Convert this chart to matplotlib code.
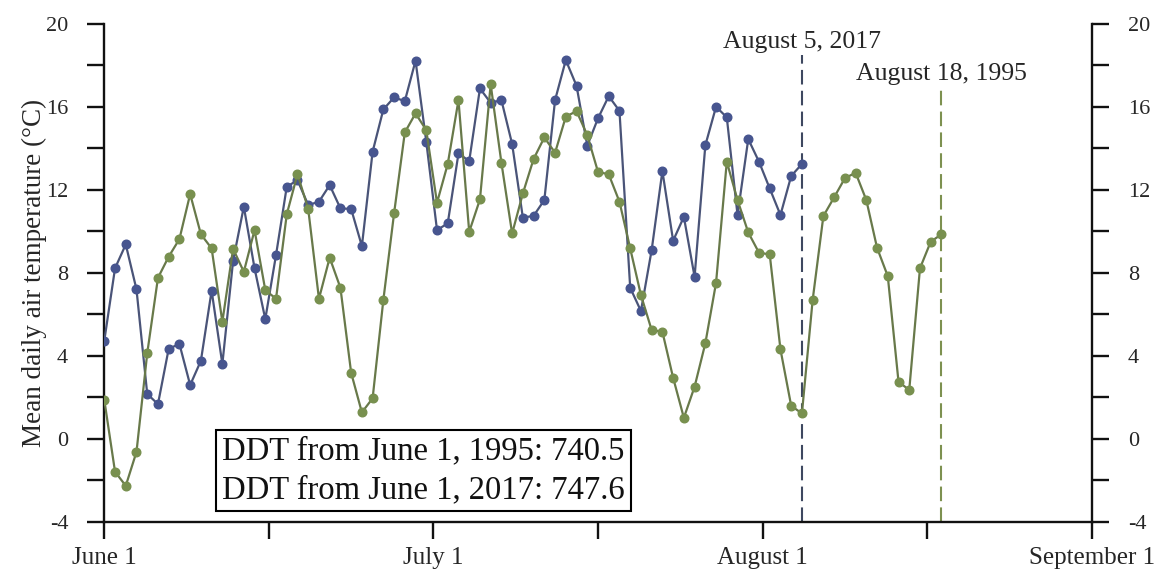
import numpy as np
import matplotlib
matplotlib.use("Agg")
import matplotlib.pyplot as plt

# Mean daily air temperature (°C), one value per day starting June 1
temp_2017 = [4.73, 8.22, 9.37, 7.20, 2.16, 1.67, 4.34, 4.57, 2.59, 3.76,
             7.14, 3.60, 8.58, 11.19, 8.22, 5.77, 8.86, 12.15, 12.47, 11.27,
             11.43, 12.23, 11.11, 11.08, 9.29, 13.84, 15.88, 16.46, 16.28, 18.23,
             14.32, 10.06, 10.39, 13.76, 13.39, 16.89, 16.20, 16.33, 14.21, 10.66,
             10.75, 11.51, 16.33, 18.26, 17.02, 14.13, 15.45, 16.52, 15.81, 7.28,
             6.16, 9.10, 12.91, 9.55, 10.70, 7.81, 14.15, 16.01, 15.50, 10.79,
             14.45, 13.36, 12.07, 10.79, 12.67, 13.25]

temp_1995 = [1.87, -1.59, -2.27, -0.63, 4.12, 7.76, 8.78, 9.63, 11.80, 9.86,
             9.18, 5.64, 9.16, 8.05, 10.06, 7.17, 6.75, 10.82, 12.76, 11.08,
             6.75, 8.73, 7.28, 3.18, 1.27, 1.95, 6.69, 10.87, 14.77, 15.69,
             14.88, 11.38, 13.25, 16.33, 9.98, 11.54, 17.09, 13.31, 9.90, 11.83,
             13.49, 14.53, 13.79, 15.53, 15.80, 14.64, 12.87, 12.75, 11.43, 9.18,
             6.93, 5.24, 5.16, 2.94, 1.01, 2.51, 4.60, 7.52, 13.36, 11.51,
             9.95, 8.97, 8.89, 4.31, 1.59, 1.22, 6.69, 10.74, 11.64, 12.56,
             12.83, 11.51, 9.21, 7.84, 2.75, 2.35, 8.22, 9.50, 9.86]

month_labels = ["June 1", "July 1", "August 1", "September 1"]
n_days = 92  # June 1 to September 1

end_day_2017, end_label_2017 = 65, "August 5, 2017"
end_day_1995, end_label_1995 = 78, "August 18, 1995"
ddt_lines = ["DDT from June 1, 1995: 740.5", "DDT from June 1, 2017: 747.6"]

plt.rcParams["font.family"] = ["Liberation Serif", "DejaVu Serif"]

blue_line, blue_mark = "#4a5478", "#47558f"
green_line, green_mark = "#68794a", "#78904f"
text_col = "#262626"

fig = plt.figure(figsize=(11.65, 5.71), dpi=100)
ax = fig.add_axes([104.3 / 1165, 1 - 521.7 / 571, (1091.7 - 104.3) / 1165, (521.7 - 24) / 571])

days_2017 = np.arange(len(temp_2017))
days_1995 = np.arange(len(temp_1995))

ax.plot(days_2017, temp_2017, color=blue_line, lw=1.6, marker="o", ms=6.2,
        mfc=blue_mark, mec=blue_mark, zorder=3)
ax.plot(days_1995, temp_1995, color=green_line, lw=1.6, marker="o", ms=6.2,
        mfc=green_mark, mec=green_mark, zorder=3)

# End-of-season markers
ax.plot([end_day_2017, end_day_2017], [-4, 18.5], color="#3e4860", lw=1.5,
        dashes=(7, 3), zorder=2)
ax.plot([end_day_1995, end_day_1995], [-4, 16.9], color="#7d9150", lw=1.5,
        dashes=(7, 3), zorder=2)
ax.text(end_day_2017, 18.85, end_label_2017, ha="center", va="baseline",
        fontsize=18.5, color=text_col)
ax.text(end_day_1995, 17.3, end_label_1995, ha="center", va="baseline",
        fontsize=18.5, color=text_col)

# Degree-day totals box
ax.text(10.97, -3.22, "\n".join(ddt_lines), ha="left", va="bottom",
        fontsize=23.5, color="#111111", linespacing=1.36,
        bbox=dict(boxstyle="square,pad=0.18", fc="white", ec="black", lw=1.5),
        zorder=4)

ax.set_xlim(0, n_days)
ax.set_ylim(-4, 20)

ax.set_xticks(np.linspace(0, n_days, 7))
ax.set_xticklabels([month_labels[i // 2] if i % 2 == 0 else "" for i in range(7)])

ax.set_yticks(np.arange(-4, 21, 2))
ax.set_yticklabels([str(v) if v % 4 == 0 else "" for v in range(-4, 21, 2)])

ax.spines["top"].set_visible(False)
for s in ("left", "right", "bottom"):
    ax.spines[s].set_linewidth(1.7)
    ax.spines[s].set_color("#111111")

ax.tick_params(axis="both", direction="out", length=12, width=1.7,
               colors="#111111", labelcolor=text_col)
ax.tick_params(axis="y", left=True, right=True, labelleft=True,
               labelright=True, pad=14, labelsize=16)
ax.tick_params(axis="x", pad=6, labelsize=18)

ax.set_ylabel("Mean daily air temperature (°C)", fontsize=19.5, color=text_col)
ax.yaxis.set_label_coords(-0.058, 0.5)

fig.savefig("out.png", dpi=100, facecolor="white")
